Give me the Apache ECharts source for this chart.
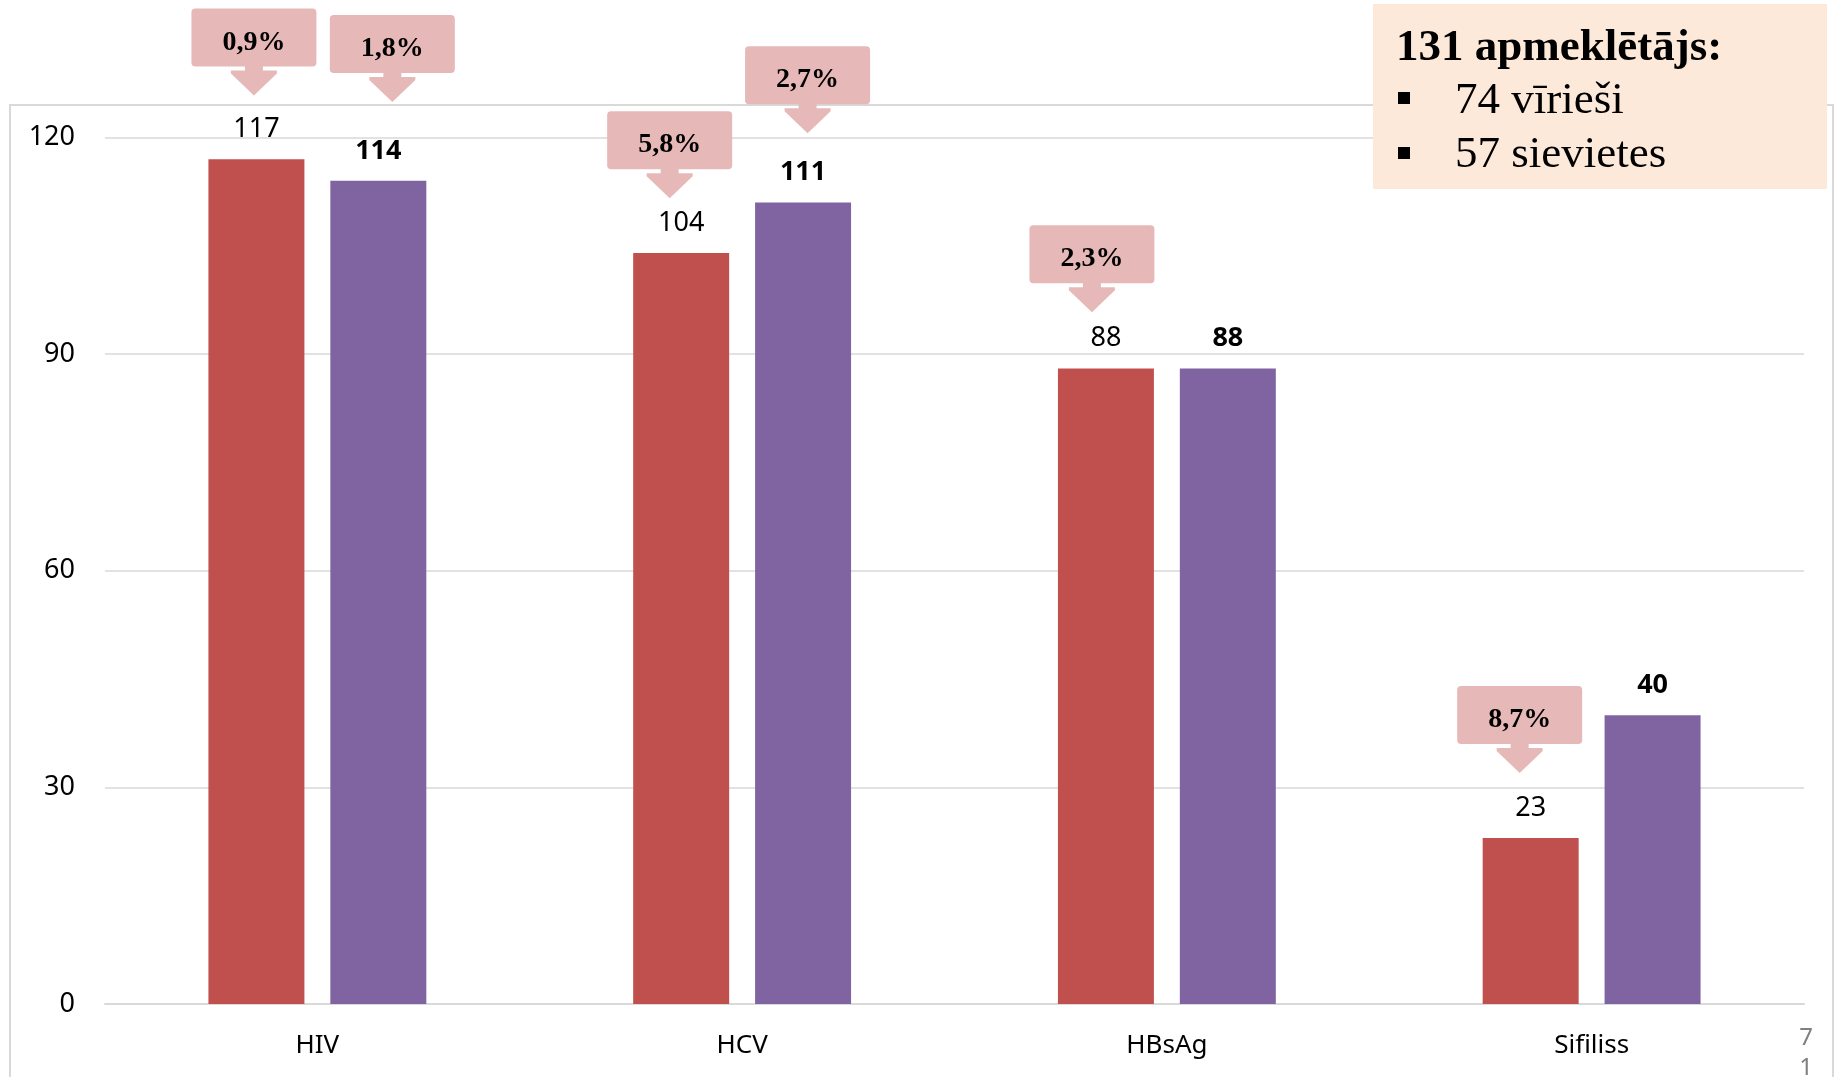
<!DOCTYPE html>
<html>
<head>
<meta charset="utf-8">
<script src="https://cdn.jsdelivr.net/npm/echarts@6/dist/echarts.min.js"></script>
<style>
  html, body { margin: 0; padding: 0; background: #ffffff; }
  #chart { width: 1839px; height: 1077px; }
</style>
</head>
<body>
<div id="chart"></div>
<script>
// Test results by infection
const categories = ['HIV', 'HCV', 'HBsAg', 'Sifiliss'];
const seriesA = [117, 104, 88, 23];   // red bars
const seriesB = [114, 111, 88, 40];   // purple bars
const yTicks = { min: 0, max: 120, interval: 30 };

// Percentage callouts: category index, bar (0 = red, 1 = purple), arrow-tip height in axis units, text
const calloutCat   = [0, 0, 1, 1, 2, 3];
const calloutBar   = [0, 1, 0, 1, 0, 0];
const calloutTip   = [125.8, 124.9, 111.6, 120.6, 95.8, 32.0];
const calloutText  = ['0,9%', '1,8%', '5,8%', '2,7%', '2,3%', '8,7%'];

// Visitor summary box
const summaryTitle = '131 apmeklētājs:';
const summaryItems = ['74 vīrieši', '57 sievietes'];

const RED = '#C0504D';
const PURPLE = '#8064A2';
const CALLOUT = '#E6B9B8';
const GRIDC = '#D9D9D9';
const FONT = '"Noto Sans", "Open Sans", sans-serif';
const SERIF = '"Liberation Serif", "DejaVu Serif", serif';

// hand-placed horizontal nudge of each callout relative to its bar (px)
const CALLOUT_NUDGE = [-2.5, 14, -11.5, 4.5, -14, -11];

const BAR_CAT_GAP = 0.487;
const BAR_GAP = 0.27;
const barFrac = (1 - BAR_CAT_GAP) / (2 + BAR_GAP);
const barOffsetFrac = barFrac * (1 + BAR_GAP) / 2;

const chart = echarts.init(document.getElementById('chart'), null, { renderer: 'canvas' });

const calloutData = calloutCat.map((c, i) => [c, calloutTip[i], calloutBar[i], i]);

// box with a down-pointing arrow whose tip sits at the given height
function renderCallout(params, api) {
  const cat = api.value(0);
  const tipVal = api.value(1);
  const bar = api.value(2);
  const idx = api.value(3);
  const p = api.coord([cat, tipVal]);
  const band = api.size([1, 0])[0];
  const tx = p[0] + (bar === 0 ? -1 : 1) * band * barOffsetFrac + CALLOUT_NUDGE[idx];
  const ty = p[1];
  const bw = 125, bh = 58;
  const boxBottom = ty - 29;
  return {
    type: 'group',
    children: [
      {
        type: 'rect',
        shape: { x: tx - bw / 2, y: boxBottom - bh, width: bw, height: bh, r: 4 },
        style: { fill: CALLOUT }
      },
      {
        type: 'rect',
        shape: { x: tx - 9, y: boxBottom - 1, width: 18, height: 6 },
        style: { fill: CALLOUT }
      },
      {
        type: 'polygon',
        shape: { points: [[tx - 23, ty - 25], [tx + 23, ty - 25], [tx + 23, ty - 22], [tx, ty], [tx - 23, ty - 22]] },
        style: { fill: CALLOUT }
      },
      {
        type: 'text',
        style: {
          text: calloutText[idx],
          x: tx, y: boxBottom - bh / 2 + 5,
          align: 'center', verticalAlign: 'middle',
          font: 'bold 28px ' + SERIF,
          fill: '#000'
        }
      }
    ]
  };
}

const option = {
  backgroundColor: '#ffffff',
  animation: false,
  grid: { left: 105, right: 35, top: 137.5, bottom: 73, containLabel: false },
  xAxis: {
    type: 'category',
    data: categories,
    axisLine: { lineStyle: { color: GRIDC, width: 2 } },
    axisTick: { show: false },
    axisLabel: { color: '#000', fontFamily: FONT, fontSize: 26, margin: 29 }
  },
  yAxis: {
    type: 'value',
    min: yTicks.min, max: yTicks.max, interval: yTicks.interval,
    axisLine: { show: false },
    axisTick: { show: false },
    splitLine: { lineStyle: { color: GRIDC, width: 1.5 } },
    axisLabel: { color: '#000', fontFamily: FONT, fontSize: 27, margin: 30 }
  },
  series: [
    {
      type: 'bar',
      data: seriesA,
      barCategoryGap: (BAR_CAT_GAP * 100) + '%',
      barGap: (BAR_GAP * 100) + '%',
      itemStyle: { color: RED },
      label: {
        show: true, position: 'top', distance: 15,
        color: '#000', fontFamily: FONT, fontSize: 27, lineHeight: 30
      }
    },
    {
      type: 'bar',
      data: seriesB,
      barCategoryGap: (BAR_CAT_GAP * 100) + '%',
      barGap: (BAR_GAP * 100) + '%',
      itemStyle: { color: PURPLE },
      label: {
        show: true, position: 'top', distance: 15,
        color: '#000', fontFamily: FONT, fontSize: 27, fontWeight: 'bold', lineHeight: 30
      }
    },
    {
      type: 'custom',
      renderItem: renderCallout,
      data: calloutData,
      clip: false,
      z: 10,
      silent: true
    }
  ],
  graphic: [
    // outer chart frame (runs past the bottom edge)
    {
      type: 'rect', z: 0,
      shape: { x: 10, y: 105, width: 1823, height: 1100 },
      style: { fill: 'none', stroke: GRIDC, lineWidth: 2 }
    },
    // visitor summary box
    { type: 'rect', z: 100, shape: { x: 1373, y: 4, width: 454, height: 185 }, style: { fill: '#FDE9D9' } },
    { type: 'text', z: 101, style: { text: summaryTitle, x: 1396, y: 48, verticalAlign: 'middle', font: 'bold 45px ' + SERIF, fill: '#000' } },
    { type: 'rect', z: 101, shape: { x: 1398, y: 92, width: 12, height: 12 }, style: { fill: '#000' } },
    { type: 'text', z: 101, style: { text: summaryItems[0], x: 1455, y: 101, verticalAlign: 'middle', font: '45px ' + SERIF, fill: '#000' } },
    { type: 'rect', z: 101, shape: { x: 1398, y: 147, width: 12, height: 12 }, style: { fill: '#000' } },
    { type: 'text', z: 101, style: { text: summaryItems[1], x: 1455, y: 155, verticalAlign: 'middle', font: '45px ' + SERIF, fill: '#000' } },
    // page number
    { type: 'text', z: 101, style: { text: '7', x: 1806, y: 1038, align: 'center', verticalAlign: 'middle', font: '24px ' + FONT, fill: '#7F7F7F' } },
    { type: 'text', z: 101, style: { text: '1', x: 1806, y: 1068, align: 'center', verticalAlign: 'middle', font: '24px ' + FONT, fill: '#7F7F7F' } }
  ]
};

chart.setOption(option);
</script>
</body>
</html>
